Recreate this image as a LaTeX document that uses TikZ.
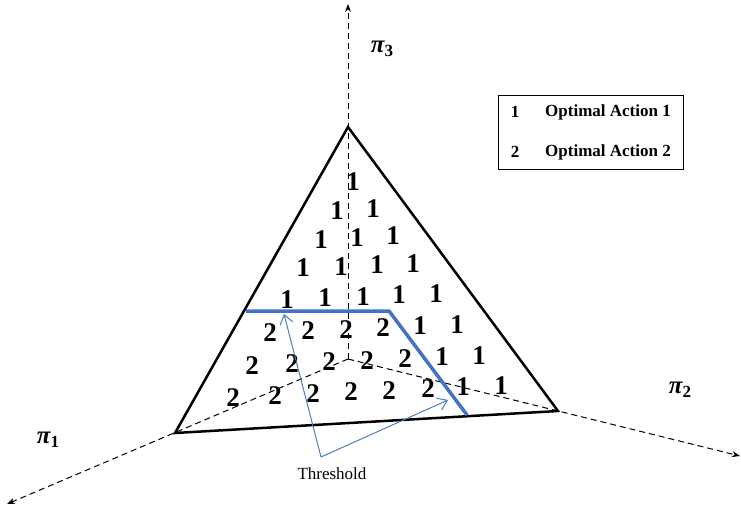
\documentclass[tikz,border=0pt]{standalone}
\usepackage{fontspec}
\setmainfont{Liberation Serif}
\usetikzlibrary{arrows.meta}
\definecolor{thrblue}{RGB}{68,114,196}
\definecolor{arrblue}{RGB}{74,126,187}
\newcommand{\pilabel}[1]{{\bfseries\itshape\fontsize{25}{25}\selectfont π}\raisebox{-4.5pt}{\bfseries\fontsize{17}{17}\selectfont #1}}
\begin{document}
\begin{tikzpicture}[x=1pt,y=-1pt,
  axisline/.style={line width=1pt,dash pattern=on 6pt off 4pt,-{Stealth[length=8pt,width=6pt]}},
  face/.style={line width=2.5pt,line join=miter},
  thr/.style={line width=3.5pt,color=thrblue},
  thrarrow/.style={line width=1pt,color=arrblue,-{Straight Barb[length=9pt,width=13pt]}},
  digit/.style={font=\bfseries\fontsize{27}{27}\selectfont,inner sep=0pt},
  legtext/.style={font=\bfseries\fontsize{17}{17}\selectfont,inner sep=0pt},
  axlabel/.style={inner sep=0pt}]
\useasboundingbox (0,0) rectangle (741,509);
% vertices
\coordinate (O) at (348,359);
\coordinate (T) at (348,127);
\coordinate (L) at (175,433);
\coordinate (R) at (558,411);
\coordinate (X3) at (348,4);
\coordinate (X1) at (7,504);
\coordinate (X2) at (740,456);
% axes
\draw[axisline] (O) -- (X3);
\draw[axisline] (O) -- (X1);
\draw[axisline] (O) -- (X2);
% triangle
\draw[face] (T) -- (L) -- (R) -- cycle;
% axis labels
\node[axlabel] (p3) at (382,49) {\pilabel{3}};
\node[axlabel] (p1) at (48,440) {\pilabel{1}};
\node[axlabel] (p2) at (680,390) {\pilabel{2}};
% digits
\foreach \x/\r/\d [count=\i] in {
  353/182/1,
  337/210/1, 373/210/1,
  321/238/1, 357/238/1, 393/238/1,
  303/266/1, 341/266/1, 377/266/1, 413/266/1,
  287/297/1, 325/297/1, 363/297/1, 399/297/1, 436/297/1,
  270/329/2, 308/329/2, 346/329/2, 383/329/2, 420/329/1, 457/329/1,
  252/361/2, 292/361/2, 329/361/2, 367/361/2, 405/361/2, 442/361/1, 479/361/1,
  233/392/2, 275/392/2, 313/392/2, 351/392/2, 389/392/2, 428/392/2, 463/392/1, 501/392/1}
  \node[digit] (n\i) at (\x,{\r-0.044*(\x-348)}) {\d};
% threshold line
\coordinate (tA) at (246,311);
\coordinate (tB) at (389,311);
\coordinate (tC) at (467,415);
\draw[thr] (tA) -- (tB) -- (tC);
% threshold arrows
\coordinate (tv) at (321,457);
\coordinate (ha) at (284,314);
\coordinate (hb) at (448,400);
\draw[thrarrow] (tv) -- (ha);
\draw[thrarrow] (tv) -- (hb);
\node[inner sep=0pt,font=\fontsize{17}{17}\selectfont] (thrlabel) at (332,474) {Threshold};
% legend
\node[draw,line width=1pt,minimum width=185pt,minimum height=74pt,inner sep=0pt] (legend) at (590.5,132) {};
\node[legtext] (l1n) at (515,112) {1};
\node[legtext] (l1t) at (608,112) {Optimal Action 1};
\node[legtext] (l2n) at (515,152) {2};
\node[legtext] (l2t) at (608,152) {Optimal Action 2};
\end{tikzpicture}
\end{document}
